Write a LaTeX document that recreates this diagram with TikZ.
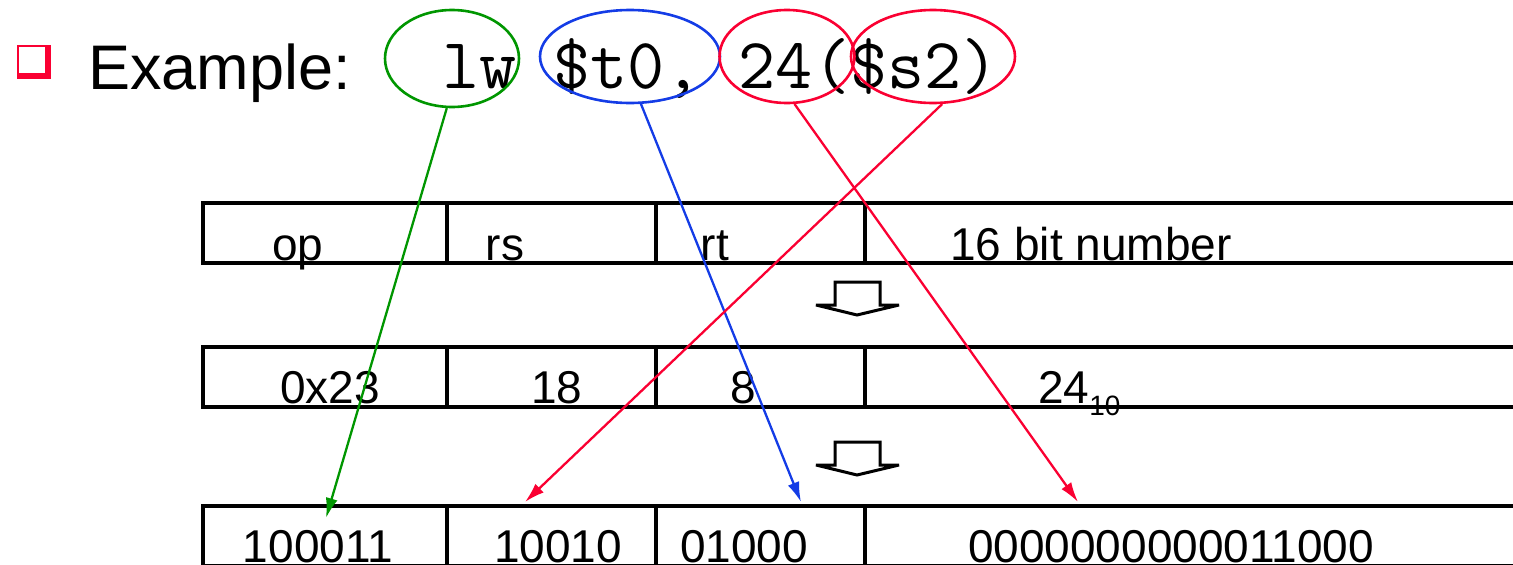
\documentclass[tikz,border=0pt]{standalone}
\usepackage{fontspec}
\setmainfont{Liberation Sans}
\usetikzlibrary{arrows.meta,shapes.geometric}

\definecolor{lwgreen}{RGB}{0,150,0}
\definecolor{regblue}{RGB}{20,60,230}
\definecolor{immred}{RGB}{250,0,50}

\tikzset{
  field/.style={anchor=base, inner sep=0pt, font=\fontsize{46}{50}\selectfont},
  ring/.style={draw, ellipse, line width=2.6pt, inner sep=0pt},
  link/.style={line width=2.3pt, -{Latex[length=20pt,width=12pt]}},
  rowline/.style={line width=3.2pt},
  blockarrow/.style={line width=3pt, fill=white, line join=miter, miter limit=4}
}

\begin{document}
\begin{tikzpicture}[x=1pt, y=-1pt]
    \clip (0,0) rectangle (1513,565);

    % Bullet and heading
    \fill[immred] (17,45) rectangle (51,79);
    \fill[white] (19,47) rectangle (45,73);
    \node[anchor=base west, inner sep=0pt, font=\fontsize{63}{66}\selectfont] (title) at (88,89) {Example:};
    \node[anchor=base west, inner sep=0pt, font=\ttfamily\fontsize{72}{76}\selectfont] (code) at (442,88) {lw \$t0, 24(\$s2)};

    % Rings round the operands
    \node[ring, lwgreen, minimum width=134pt, minimum height=97pt] (lw) at (452,58.5) {};
    \node[ring, regblue, minimum width=180pt, minimum height=93pt] (tz) at (630,56.5) {};
    \node[ring, immred, minimum width=135pt, minimum height=93pt] (imm) at (787,56.5) {};
    \node[ring, immred, minimum width=164pt, minimum height=93pt] (sreg) at (933,56.5) {};

    % Instruction format rows
    \foreach \top in {203,347,506} {
      \draw[rowline] (1530,\top) -- (203,\top) -- (203,\top+60) -- (1530,\top+60);
      \foreach \xd in {447,656,865}
        \draw[rowline] (\xd,\top) -- (\xd,\top+60);
    }

    % Down arrows between rows
    \foreach \dy in {0,160}
      \draw[blockarrow] (835,282+\dy) -- (880,282+\dy) -- (880,305+\dy) -- (899,305+\dy)
        -- (857,315+\dy) -- (816,305+\dy) -- (835,305+\dy) -- cycle;

    % Field names
    \node[field] (op) at (298,260) {op};
    \node[field] (rs) at (505,260) {rs};
    \node[field] (rt) at (715,260) {rt};
    \node[field] (num) at (1091,260) {16 bit number};

    % Decimal values
    \node[field] (opdec) at (330,403) {0x23};
    \node[field] (rsdec) at (557,403) {18};
    \node[field] (rtdec) at (743,403) {8};
    \node[field, anchor=base west] (immdec) at (1038,403)
      {24\raisebox{-12pt}{\fontsize{28}{30}\selectfont 10}};

    % Binary values
    \node[field] (opbin) at (318,562) {100011};
    \node[field] (rsbin) at (558,562) {10010};
    \node[field] (rtbin) at (744,562) {01000};
    \node[field] (immbin) at (1171,562) {0000000000011000};

    % Where each operand lands
    \coordinate (optip) at (326,518);
    \coordinate (rstip) at (525,502);
    \coordinate (rttip) at (801,502);
    \coordinate (immtip) at (1078,502);

    \draw[link, lwgreen] (lw.-96) -- (optip);
    \draw[link, regblue] (tz.-77) -- (rttip);
    \draw[link, immred] (imm.-81) -- (immtip);
    \draw[link, immred] (sreg.-79) -- (rstip);
\end{tikzpicture}
\end{document}
